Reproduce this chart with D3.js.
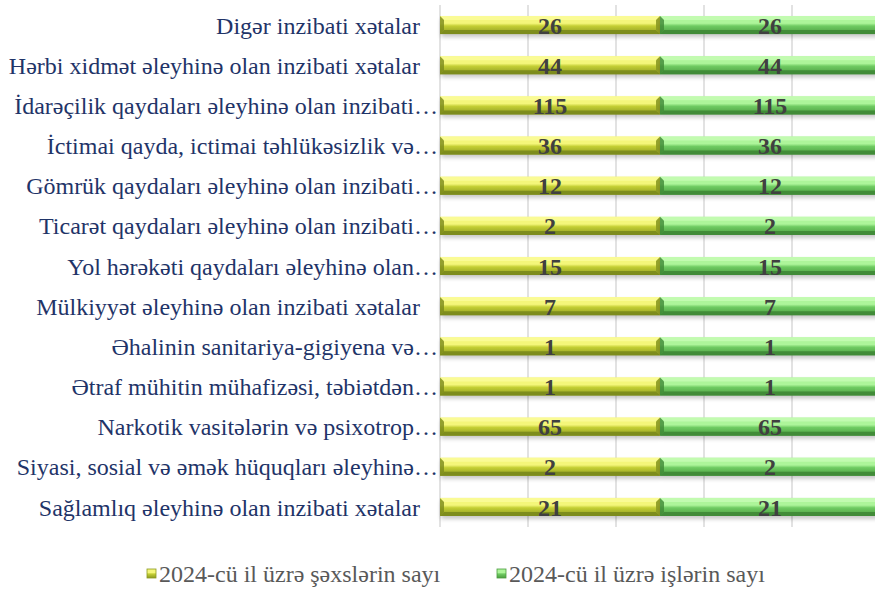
<!DOCTYPE html>
<html>
<head>
<meta charset="utf-8">
<script src="https://cdn.jsdelivr.net/npm/d3@7"></script>
<style>
  html, body { margin: 0; padding: 0; background: #fff; overflow: hidden; }
  svg { display: block; }
</style>
</head>
<body>
<div id="chart"></div>
<script>
// categories, top to bottom
const categories = [
    "Digər inzibati xətalar\u00a0\u00a0\u00a0",
    "Hərbi xidmət əleyhinə olan inzibati xətalar\u00a0\u00a0\u00a0",
    "İdarəçilik qaydaları əleyhinə olan inzibati…",
    "İctimai qayda, ictimai təhlükəsizlik və…",
    "Gömrük qaydaları əleyhinə olan inzibati…",
    "Ticarət qaydaları əleyhinə olan inzibati…",
    "Yol hərəkəti qaydaları əleyhinə olan…",
    "Mülkiyyət əleyhinə olan inzibati xətalar\u00a0\u00a0\u00a0",
    "Əhalinin sanitariya-gigiyena və…",
    "Ətraf mühitin mühafizəsi, təbiətdən…",
    "Narkotik vasitələrin və psixotrop…",
    "Siyasi, sosial və əmək hüquqları əleyhinə…",
    "Sağlamlıq əleyhinə olan inzibati xətalar\u00a0\u00a0\u00a0"
];
const persons = [26, 44, 115, 36, 12, 2, 15, 7, 1, 1, 65, 2, 21];
const cases   = [26, 44, 115, 36, 12, 2, 15, 7, 1, 1, 65, 2, 21];
const seriesNames = ["2024-cü il üzrə şəxslərin sayı", "2024-cü il üzrə işlərin sayı"];
const xTicks = [0, 0.2, 0.4, 0.6, 0.8, 1];

const width = 875, height = 591;
const margin = { left: 440, right: -5, top: 5, bottom: 64 };
const serif = "'Liberation Serif', 'Times New Roman', serif";

const svg = d3.select("#chart").append("svg")
    .attr("width", width)
    .attr("height", height);

const defs = svg.append("defs");
const palettes = [
    { id: "gYellow", top: "#f4f67a", mid: "#c4cf34", bot: "#8c9a22", hi: "#fafc9a", lo: "#7a8a1c" },
    { id: "gGreen",  top: "#adf59a", mid: "#6fcb62", bot: "#4b9c40", hi: "#c6fbb4", lo: "#3f8836" }
];
palettes.forEach(p => {
    const g = defs.append("linearGradient").attr("id", p.id)
        .attr("x1", 0).attr("y1", 0).attr("x2", 0).attr("y2", 1);
    g.append("stop").attr("offset", "0%").attr("stop-color", p.top);
    g.append("stop").attr("offset", "40%").attr("stop-color", p.top);
    g.append("stop").attr("offset", "55%").attr("stop-color", p.mid);
    g.append("stop").attr("offset", "100%").attr("stop-color", p.bot);
});
const blur = defs.append("filter").attr("id", "shadow")
    .attr("x", "-5%").attr("y", "-50%").attr("width", "110%").attr("height", "200%");
blur.append("feGaussianBlur").attr("stdDeviation", 2);

const x = d3.scaleLinear().domain([0, 1]).range([margin.left, width - margin.right]);
const y = d3.scaleBand().domain(categories)
    .range([margin.top, height - margin.bottom])
    .paddingInner(0.55).paddingOuter(0.275);

// gridlines
svg.append("g")
    .selectAll("line")
    .data(xTicks)
    .join("line")
    .attr("x1", d => x(d)).attr("x2", d => x(d))
    .attr("y1", margin.top).attr("y2", height - margin.bottom)
    .attr("stroke", "#d9d9d9")
    .attr("stroke-width", 1.5);

// stacked 100% data
const rows = categories.map((c, i) => ({ cat: c, v: [persons[i], cases[i]] }));
const segs = [];
rows.forEach(r => {
    const total = r.v[0] + r.v[1];
    let acc = 0;
    r.v.forEach((v, s) => {
        segs.push({ cat: r.cat, s, value: v, x0: acc / total, x1: (acc + v) / total });
        acc += v;
    });
});

const bh = y.bandwidth();
const bev = 4;

const bars = svg.append("g").selectAll("g")
    .data(segs)
    .join("g");

// soft shadow
bars.append("rect")
    .attr("x", d => x(d.x0) + 1)
    .attr("y", d => y(d.cat) + 3)
    .attr("width", d => Math.max(0, x(d.x1) - x(d.x0)))
    .attr("height", bh)
    .attr("fill", "#000")
    .attr("opacity", 0.22)
    .attr("filter", "url(#shadow)");

bars.append("rect")
    .attr("x", d => x(d.x0))
    .attr("y", d => y(d.cat))
    .attr("width", d => x(d.x1) - x(d.x0))
    .attr("height", bh)
    .attr("fill", d => `url(#${palettes[d.s].id})`);

// bevel: top highlight
bars.append("path")
    .attr("d", d => {
        const a = x(d.x0), b = x(d.x1), t = y(d.cat);
        return `M${a},${t}L${b},${t}L${b - bev},${t + bev}L${a + bev},${t + bev}Z`;
    })
    .attr("fill", d => palettes[d.s].hi)
    .attr("opacity", 0.85);

// bevel: bottom shade
bars.append("path")
    .attr("d", d => {
        const a = x(d.x0), b = x(d.x1), t = y(d.cat) + bh;
        return `M${a},${t}L${b},${t}L${b - bev},${t - bev}L${a + bev},${t - bev}Z`;
    })
    .attr("fill", d => palettes[d.s].lo)
    .attr("opacity", 0.9);

// bevel: left end
bars.append("path")
    .attr("d", d => {
        const a = x(d.x0), t = y(d.cat);
        return `M${a},${t}L${a + bev},${t + bev}L${a + bev},${t + bh - bev}L${a},${t + bh}Z`;
    })
    .attr("fill", d => palettes[d.s].lo)
    .attr("opacity", 0.8);

// bevel: right end
bars.append("path")
    .attr("d", d => {
        const b = x(d.x1), t = y(d.cat);
        return `M${b},${t}L${b - bev},${t + bev}L${b - bev},${t + bh - bev}L${b},${t + bh}Z`;
    })
    .attr("fill", d => palettes[d.s].bot)
    .attr("opacity", 0.9);

// value labels
svg.append("g").selectAll("text")
    .data(segs)
    .join("text")
    .attr("x", d => (x(d.x0) + x(d.x1)) / 2)
    .attr("y", d => y(d.cat) + bh / 2)
    .attr("dy", "0.36em")
    .attr("text-anchor", "middle")
    .attr("font-family", serif)
    .attr("font-weight", "bold")
    .attr("font-size", 24)
    .attr("fill", "#404040")
    .text(d => d.value);

// category axis labels
svg.append("g").selectAll("text")
    .data(categories)
    .join("text")
    .attr("x", margin.left - 2)
    .attr("y", d => y(d) + bh / 2)
    .attr("dy", "0.36em")
    .attr("text-anchor", "end")
    .attr("font-family", serif)
    .attr("font-size", 24)
    .attr("fill", "#1f3468")
    .text(d => d);

// legend
const legendX = [147, 497];
const legend = svg.append("g").selectAll("g")
    .data(seriesNames)
    .join("g")
    .attr("transform", (d, i) => `translate(${legendX[i]},${573})`);
legend.append("rect")
    .attr("x", 0).attr("y", -4)
    .attr("width", 9).attr("height", 9)
    .attr("fill", (d, i) => `url(#${palettes[i].id})`)
    .attr("stroke", (d, i) => palettes[i].bot)
    .attr("stroke-width", 0.8);
legend.append("text")
    .attr("x", 12)
    .attr("dy", "0.36em")
    .attr("font-family", serif)
    .attr("font-size", 24)
    .attr("fill", "#595959")
    .text(d => d);
</script>
</body>
</html>
